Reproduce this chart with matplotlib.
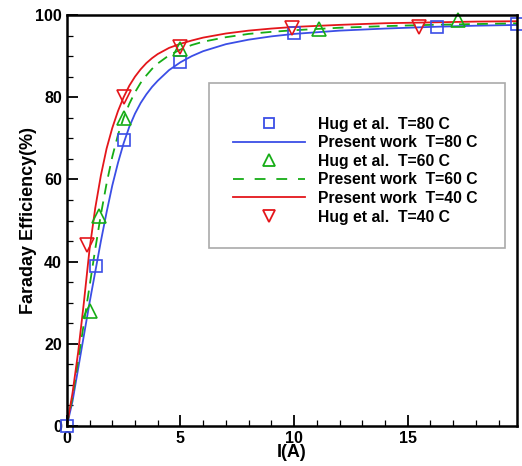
import matplotlib.pyplot as plt
from matplotlib.patches import Rectangle
from matplotlib.lines import Line2D
from matplotlib.ticker import MultipleLocator

plt.rcParams['font.family'] = ['Liberation Sans', 'DejaVu Sans']
plt.rcParams['font.weight'] = 'bold'

# experimental points (Hug et al.)
hug80_x = [0, 1.3, 2.5, 5, 10, 16.3, 19.8]
hug80_y = [0, 39, 69.5, 88.5, 95.6, 97, 97.8]
hug60_x = [1.0, 1.4, 2.5, 5, 11.1, 17.2]
hug60_y = [28, 51, 75, 91.8, 96.5, 98.8]
hug40_x = [0.9, 2.5, 5, 9.9, 15.5]
hug40_y = [44, 80, 92.3, 96.8, 97.2]

# model curves (present work)
cur_x = [0, 0.25, 0.5, 0.75, 1, 1.25, 1.5, 1.75, 2, 2.25, 2.5, 2.75, 3, 3.25, 3.5,
         3.75, 4, 4.5, 5, 5.5, 6, 7, 8, 9, 10, 12, 14, 16, 18, 20]
cur80_y = [0, 6, 14, 22, 30, 37.5, 45, 52, 58.5, 64, 68.8, 72.8, 76, 78.6, 80.7,
           82.5, 84, 86.6, 88.5, 90, 91.2, 92.9, 94, 94.8, 95.4, 96.2, 96.7, 97.1, 97.4, 97.6]
cur60_y = [0, 7, 16, 25, 34, 43, 51.5, 59, 65.5, 70.8, 75, 78.4, 81.2, 83.5, 85.3,
           86.9, 88.2, 90.2, 91.6, 92.7, 93.5, 94.6, 95.4, 95.9, 96.3, 96.9, 97.3, 97.6, 97.8, 98.0]
cur40_y = [0, 8, 18, 30, 43, 53, 61, 67.5, 72.5, 76.6, 80, 82.8, 85, 86.8, 88.3,
           89.5, 90.5, 92, 93, 93.8, 94.5, 95.5, 96.2, 96.7, 97.1, 97.6, 98.0, 98.2, 98.4, 98.5]

blue = '#3b4ee6'
green = '#16ad16'
red = '#e4161b'

fig = plt.figure(figsize=(5.22, 4.66), dpi=100)
ax = fig.add_axes([0.128, 0.0858, 0.862, 0.882])

ax.plot(cur_x, cur80_y, color=blue, lw=1.3)
ax.plot(cur_x, cur60_y, color=green, lw=1.3, dashes=(6, 4))
ax.plot(cur_x, cur40_y, color=red, lw=1.3)
ax.plot(hug80_x, hug80_y, 's', ms=9, mfc='none', mec=blue, mew=1.2, clip_on=False)
ax.plot(hug60_x, hug60_y, '^', ms=10, mfc='none', mec=green, mew=1.2, clip_on=False)
ax.plot(hug40_x, hug40_y, 'v', ms=10, mfc='none', mec=red, mew=1.2, clip_on=False)

ax.set_xlim(0, 19.8)
ax.set_ylim(0, 100)
ax.xaxis.set_major_locator(MultipleLocator(5))
ax.xaxis.set_minor_locator(MultipleLocator(1))
ax.yaxis.set_major_locator(MultipleLocator(20))
ax.yaxis.set_minor_locator(MultipleLocator(5))
ax.tick_params(which='both', direction='in', labelsize=11.5, width=1.3)
ax.tick_params(which='major', length=8)
ax.tick_params(which='minor', length=4, width=0.9)
for s in ax.spines.values():
    s.set_linewidth(1.8)

ax.set_xlabel('I(A)', fontsize=13, fontweight='bold', labelpad=-1)
ax.set_ylabel('Faraday Efficiency(%)', fontsize=13, fontweight='bold', labelpad=-1)

# legend frame
ax.add_patch(Rectangle((0.316, 0.433), 0.657, 0.402, transform=ax.transAxes,
                       fill=True, facecolor='white', edgecolor='#aaaaaa', lw=1.2, zorder=4))
handles = [
    Line2D([], [], ls='none', marker='s', ms=7, mfc='none', mec=blue, mew=1.3),
    Line2D([], [], color=blue, lw=1.3),
    Line2D([], [], ls='none', marker='^', ms=8, mfc='none', mec=green, mew=1.3),
    Line2D([], [], color=green, lw=1.3, dashes=(6, 6)),
    Line2D([], [], color=red, lw=1.3),
    Line2D([], [], ls='none', marker='v', ms=8, mfc='none', mec=red, mew=1.3),
]
labels = ['Hug et al.  T=80 C', 'Present work  T=80 C', 'Hug et al.  T=60 C',
          'Present work  T=60 C', 'Present work  T=40 C', 'Hug et al.  T=40 C']
leg = ax.legend(handles, labels, loc='upper left', bbox_to_anchor=(0.369, 0.753),
                frameon=False, handlelength=4.6, handletextpad=0.83,
                labelspacing=0.23, borderpad=0, borderaxespad=0,
                prop={'weight': 'bold', 'size': 11.3})
leg.set_zorder(5)

fig.savefig('out.png', dpi=100)
